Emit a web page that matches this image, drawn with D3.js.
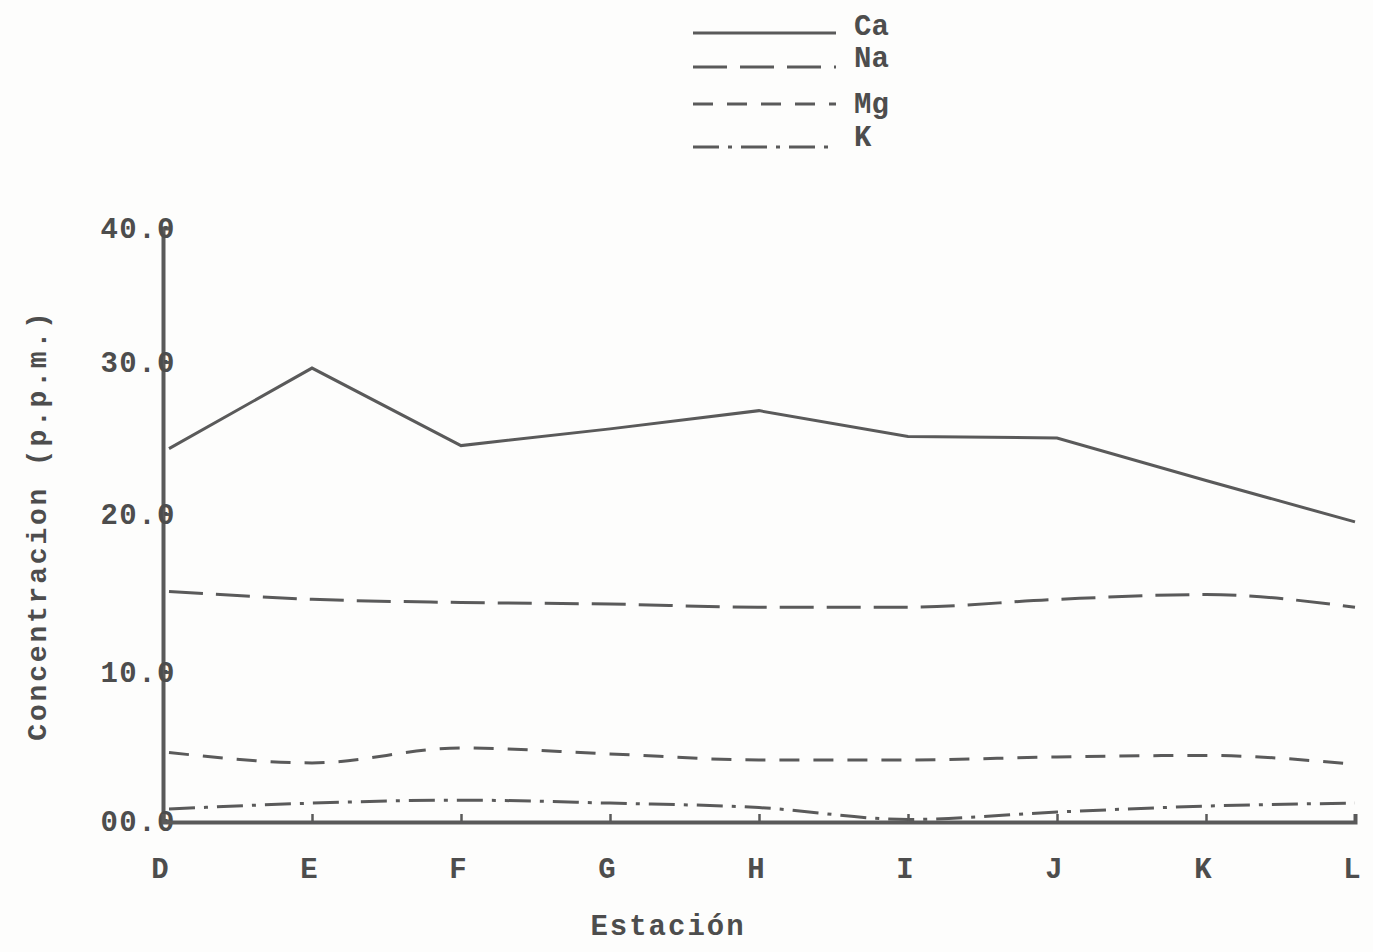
<!DOCTYPE html>
<html>
<head>
<meta charset="utf-8">
<script src="https://cdn.jsdelivr.net/npm/d3@7/dist/d3.min.js"></script>
<style>
  html, body { margin: 0; padding: 0; background: #fdfdfc; }
  svg { display: block; }
  text { font-family: "Liberation Mono", "DejaVu Sans Mono", monospace; font-weight: bold; fill: #4d4d4d; }
</style>
</head>
<body>
<svg id="chart" width="1373" height="952"></svg>
<script>
// Stations along the sampling transect
const stations = ["D", "E", "F", "G", "H", "I", "J", "K", "L"];

// Concentrations in p.p.m. at each station
const ca = [24.3, 29.6, 24.5, 25.6, 26.8, 25.1, 25.0, 22.2, 19.5];
const na = [15.1, 14.6, 14.4, 14.3, 14.1, 14.1, 14.6, 14.9, 14.1];
const mg = [4.6, 3.9, 4.9, 4.5, 4.1, 4.1, 4.3, 4.4, 3.8];
const k  = [0.8, 1.2, 1.4, 1.2, 0.9, 0.1, 0.6, 1.0, 1.2];

// Y axis ticks and their printed labels
const yTicks = [0, 10, 20, 30, 40];
const yTickLabels = ["00.0", "10.0", "20.0", "30.0", "40.0"];

const seriesNames = ["Ca", "Na", "Mg", "K"];
const seriesValues = [ca, na, mg, k];
const seriesDash = [null, "34 13", "20 14", "26 9 4 9"];
const seriesCurve = [d3.curveLinear, d3.curveMonotoneX, d3.curveMonotoneX, d3.curveMonotoneX];

const svg = d3.select("#chart");
const ink = "#5a5a5a";

const x = d3.scalePoint().domain(stations).range([163, 1355]);
// the ruled axis has slightly uneven spacing between the printed ticks
const y = d3.scaleLinear().domain(yTicks).range([821, 672, 514, 362, 228]);

// data lines
seriesValues.forEach((vals, i) => {
  const line = d3.line()
    .x((d, j) => x(stations[j]) + (j === 0 ? 6 : 0))
    .y(d => y(d))
    .curve(seriesCurve[i]);
  svg.append("path")
    .datum(vals)
    .attr("d", line)
    .attr("fill", "none")
    .attr("stroke", ink)
    .attr("stroke-width", 3)
    .attr("stroke-dasharray", seriesDash[i]);
});

// y axis
const yAxis = d3.axisRight(y).tickValues(yTicks).tickSize(6).tickFormat("");
const gy = svg.append("g").attr("transform", "translate(163,0)").call(yAxis);
gy.select(".domain").attr("stroke", ink).attr("stroke-width", 4);
gy.selectAll(".tick line").attr("stroke", ink).attr("stroke-width", 3);

svg.selectAll(".ylab")
  .data(yTicks)
  .join("text")
  .attr("class", "ylab")
  .attr("x", 176)
  .attr("y", d => y(d))
  .attr("dy", "0.35em")
  .attr("text-anchor", "end")
  .style("font-size", "29px")
  .style("letter-spacing", "1.5px")
  .text((d, i) => yTickLabels[i]);

// x axis
const xAxis = d3.axisTop(x).tickSize(8).tickFormat("");
const gx = svg.append("g").attr("transform", "translate(0,822)").call(xAxis);
gx.select(".domain").attr("stroke", ink).attr("stroke-width", 4);
gx.selectAll(".tick line").attr("stroke", ink).attr("stroke-width", 2.5);

svg.selectAll(".xlab")
  .data(stations)
  .join("text")
  .attr("class", "xlab")
  .attr("x", d => x(d) - 3)
  .attr("y", 868)
  .attr("dy", "0.35em")
  .attr("text-anchor", "middle")
  .style("font-size", "29px")
  .text(d => d);

// axis titles
svg.append("text")
  .attr("x", 668)
  .attr("y", 935)
  .attr("text-anchor", "middle")
  .style("font-size", "29px")
  .style("letter-spacing", "2px")
  .text("Estación");

svg.append("text")
  .attr("transform", "translate(36,525) rotate(-90)")
  .attr("text-anchor", "middle")
  .attr("dy", "0.35em")
  .style("font-size", "28px")
  .style("letter-spacing", "2.8px")
  .text("Concentracion (p.p.m.)");

// legend
const legendLineY = [33, 67, 104, 147];
const legendTextY = [25, 57, 103, 136];
const legend = svg.append("g");
seriesNames.forEach((name, i) => {
  legend.append("line")
    .attr("x1", 693).attr("x2", 836)
    .attr("y1", legendLineY[i]).attr("y2", legendLineY[i])
    .attr("stroke", ink)
    .attr("stroke-width", 3)
    .attr("stroke-dasharray", seriesDash[i]);
  legend.append("text")
    .attr("x", 854)
    .attr("y", legendTextY[i])
    .attr("dy", "0.35em")
    .style("font-size", "29px")
    .text(name);
});
</script>
</body>
</html>
